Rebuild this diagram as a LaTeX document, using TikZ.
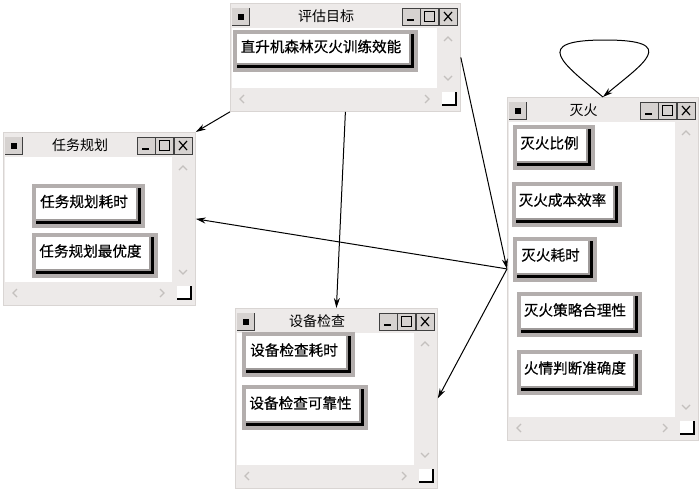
\documentclass[tikz,border=0pt]{standalone}
\usepackage{fontspec}
\setmainfont{Noto Sans CJK SC}
\newfontfamily\btnfont{Noto Sans CJK SC}[FakeBold=0.5]
\usetikzlibrary{arrows.meta, calc}

\definecolor{winbg}{HTML}{EDEAE9}
\definecolor{winline}{HTML}{D9D5D3}
\definecolor{btnframe}{HTML}{B3AEAD}
\definecolor{btnshade}{HTML}{9E9A99}
\definecolor{scrollmark}{HTML}{C4C0BE}
\definecolor{capbtn}{HTML}{D6D2D0}

\tikzset{
  winbox/.style={draw=winline, fill=winbg, line width=0.8pt, inner sep=0pt},
  wintitle/.style={font=\fontsize{14}{15}\selectfont, inner sep=0pt},
  btntext/.style={font=\btnfont\fontsize{14.6}{16}\selectfont, inner sep=0pt},
  capbox/.style={draw=black!75, fill=capbtn, line width=0.6pt},
  scrollglyph/.style={draw=scrollmark, line width=1.2pt},
  link/.style={-{Stealth[length=10pt,width=6pt]}, line width=1pt},
}

% window: name, left, top, width, height, title
\newcommand{\appwin}[6]{%
  \node[winbox, anchor=north west, minimum width=#4pt, minimum height=#5pt] (#1) at (#2,#3) {};
  \begin{scope}[shift={(#2,#3)}]
    % system button
    \fill[capbtn] (2,5) rectangle (19,22);
    \draw[black!75, line width=0.6pt] (2,22) -- (19,22) -- (19,5);
    \fill[black] (7.5,10.5) rectangle (13.5,16.5);
    % title
    \node[wintitle] (#1-title) at ({(#4-38)/2},13.5) {#6};
    % caption buttons
    \draw[capbox] (#4-58,5) rectangle (#4-40,22);
    \draw[capbox] (#4-40,5) rectangle (#4-22,22);
    \draw[capbox] (#4-21,5) rectangle (#4-3,22);
    \draw[line width=1.8pt] (#4-53,17) -- (#4-46,17);
    \draw[line width=1pt] (#4-36,8.5) rectangle (#4-26,18.5);
    \draw[line width=1.2pt] (#4-16,9) -- (#4-8,18) (#4-16,18) -- (#4-8,9);
    % client area
    \fill[white] (2,25) rectangle (#4-23,#5-23);
    % scroll bars
    \draw[scrollglyph] (#4-16,38) -- (#4-12,34) -- (#4-8,38);
    \draw[scrollglyph] (#4-16,#5-35) -- (#4-12,#5-31) -- (#4-8,#5-35);
    \draw[scrollglyph] (14,#5-16) -- (10,#5-12) -- (14,#5-8);
    \draw[scrollglyph] (#4-35,#5-16) -- (#4-31,#5-12) -- (#4-35,#5-8);
    \fill[white] (#4-18,#5-19) rectangle (#4-4,#5-6);
    \draw[line width=1.2pt] (#4-18,#5-6) -- (#4-4,#5-6) -- (#4-4,#5-19);
  \end{scope}
}

% button: name, x1, y1, x2, y2, text
\newcommand{\winbtn}[6]{%
  \fill[btnframe] (#2,#3) rectangle (#4,#5);
  \fill[black] (#2+4,#3+4) rectangle (#4-4,#5-4);
  \fill[btnshade] (#2+4,#3+4) rectangle (#4-7,#5-7);
  \fill[white] (#2+4,#3+4) rectangle (#4-9,#5-9);
  \node[btntext] (#1) at ({(#2+#4-9)/2},{(#3+#5-9)/2}) {#6};
}

\begin{document}
\begin{tikzpicture}[x=1pt, y=-1pt]
  \useasboundingbox[fill=white] (0,0) rectangle (700,490);

  % Windows
  \appwin{goal}{230}{3}{230}{108}{评估目标}
  \appwin{plan}{3}{132}{192}{173}{任务规划}
  \appwin{check}{235}{308}{202}{180}{设备检查}
  \appwin{fire}{507}{97}{191}{343}{灭火}

  % Buttons
  \winbtn{goal-b1}{233}{30}{418}{72}{直升机森林灭火训练效能}
  \winbtn{plan-b1}{32}{184}{145}{228}{任务规划耗时}
  \winbtn{plan-b2}{32}{233}{158}{278}{任务规划最优度}
  \winbtn{check-b1}{242}{332}{355}{377}{设备检查耗时}
  \winbtn{check-b2}{242}{385}{368}{430}{设备检查可靠性}
  \winbtn{fire-b1}{513}{125}{595}{170}{灭火比例}
  \winbtn{fire-b2}{512}{182}{622}{227}{灭火成本效率}
  \winbtn{fire-b3}{513}{237}{597}{282}{灭火耗时}
  \winbtn{fire-b4}{517}{292}{642}{337}{灭火策略合理性}
  \winbtn{fire-b5}{517}{350}{642}{395}{火情判断准确度}

  % Links
  \draw[link] (goal.south west) -- (plan.north east);
  \draw[link] (goal.south) -- (check.north);
  \draw[link] (goal.east) -- (fire.west);
  \draw[link] (fire.west) -- (plan.east);
  \draw[link] (fire.west) -- (check.east);

  % Self loop
  \coordinate (looptop) at (605,40);
  \draw[link] (fire.north) to[out=140, in=180, out looseness=2.3, in looseness=3.4] (looptop)
    to[out=0, in=40, out looseness=3.4, in looseness=2.3] (fire.north);
\end{tikzpicture}
\end{document}
